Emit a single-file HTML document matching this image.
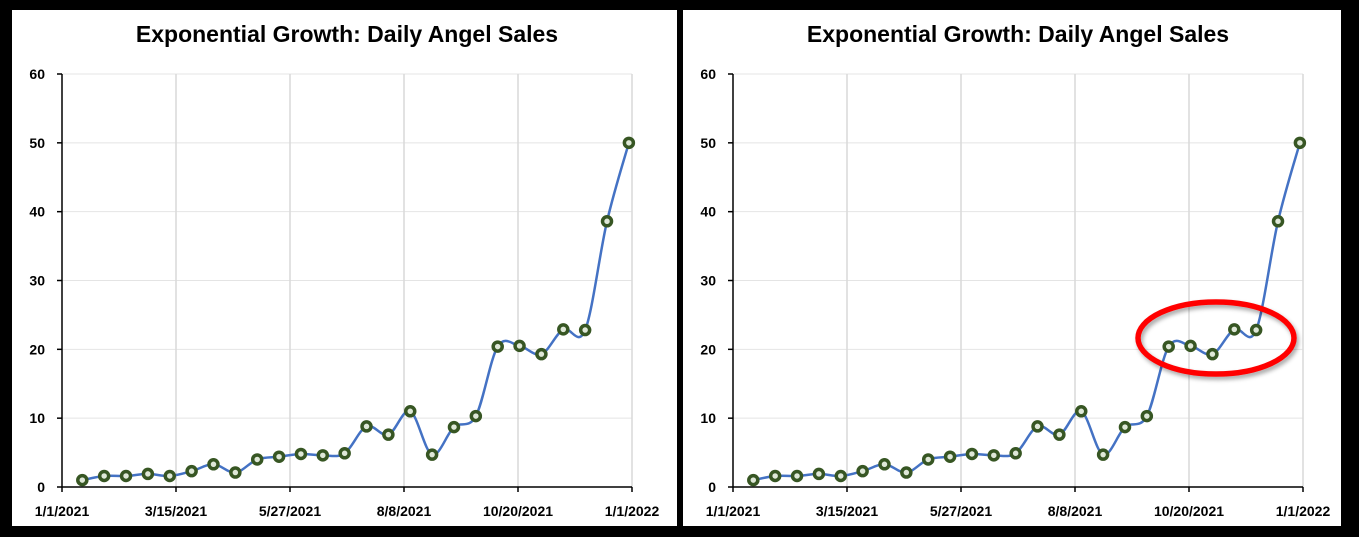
<!DOCTYPE html>
<html><head><meta charset="utf-8">
<style>
html,body{margin:0;padding:0;background:#000;}
svg{display:block;}
text{font-family:"Liberation Sans",sans-serif;}
</style></head>
<body>
<svg id="root" width="1359" height="537" viewBox="0 0 1359 537">
<defs>
<filter id="sh" x="-20%" y="-20%" width="140%" height="140%"><feDropShadow dx="2" dy="3" stdDeviation="2" flood-color="#000" flood-opacity="0.35"/></filter>
</defs>
</svg>
<script>
const days = [13,27,41,55,69,83,97,111,125,139,153,167,181,195,209,223,237,251,265,279,293,307,321,335,349,363];
const sales = [1,1.6,1.6,1.9,1.6,2.3,3.3,2.1,4.0,4.4,4.8,4.6,4.9,8.8,7.6,11.0,4.7,8.7,10.3,20.4,20.5,19.3,22.9,22.8,38.6,50.0];
const yTicks = [0,10,20,30,40,50,60];
const xTickDays = [0,73,146,219,292,365];
const xTickLabels = ["1/1/2021","3/15/2021","5/27/2021","8/8/2021","10/20/2021","1/1/2022"];

const NS="http://www.w3.org/2000/svg";
const root=document.getElementById('root');
function mk(tag,attrs,parent){const e=document.createElementNS(NS,tag);for(const k in attrs)e.setAttribute(k,attrs[k]);(parent||root).appendChild(e);return e;}

function panel(px, idx){
  const g=mk('g',{});
  
  
  const bg=mk('rect',{x:px-50,y:10,width:665+ (idx===1?0:-7),height:516,fill:'#fff'},g);
  
  
  const x0=px, x1=px+570, y0=487, y1=74;
  const xs=d=>x0+(x1-x0)*d/365;
  const ys=v=>y0-(y0-y1)*v/60;
  const t=mk('text',{x:px+285,y:42,'text-anchor':'middle','font-size':'23','font-weight':'bold',fill:'#000'},g);
  t.textContent='Exponential Growth: Daily Angel Sales';
  
  
  yTicks.forEach(v=>{
    if(v>0){const l=mk('line',{x1:x0,x2:x1,y1:ys(v),y2:ys(v),stroke:'#e4e4e4','stroke-width':1},g);
      
      }
    const tk=mk('line',{x1:x0-5,x2:x0,y1:ys(v),y2:ys(v),stroke:'#000','stroke-width':1.5},g);
    
    
    const lb=mk('text',{x:x0-17,y:ys(v)+5,'text-anchor':'end','font-size':'14','font-weight':'bold',fill:'#000'},g);
    lb.textContent=v;
    
    
  });
  xTickDays.forEach((d,i)=>{
    if(i>0){const l=mk('line',{x1:xs(d),x2:xs(d),y1:y1,y2:y0,stroke:'#d9d9d9','stroke-width':1.5},g);
      
      }
    const tk=mk('line',{x1:xs(d),x2:xs(d),y1:y0,y2:y0+5,stroke:'#000','stroke-width':1.5},g);
    
    
    const lb=mk('text',{x:xs(d),y:516,'text-anchor':'middle','font-size':'14','font-weight':'bold',fill:'#000'},g);
    lb.textContent=xTickLabels[i];
    
    
  });
  const ya=mk('line',{x1:x0,x2:x0,y1:y1,y2:y0,stroke:'#000','stroke-width':1.5},g);
  
  
  const xa=mk('line',{x1:x0,x2:x1,y1:y0,y2:y0,stroke:'#000','stroke-width':1.5},g);
  
  
  const P=days.map((d,i)=>[xs(d),ys(sales[i])]);
  let dd='M'+P[0][0]+','+P[0][1];
  for(let i=0;i<P.length-1;i++){
    const p0=P[Math.max(0,i-1)],p1=P[i],p2=P[i+1],p3=P[Math.min(P.length-1,i+2)];
    const k=1/6;
    dd+=' C'+(p1[0]+(p2[0]-p0[0])*k)+','+(p1[1]+(p2[1]-p0[1])*k)+' '+(p2[0]-(p3[0]-p1[0])*k)+','+(p2[1]-(p3[1]-p1[1])*k)+' '+p2[0]+','+p2[1];
  }
  const line=mk('path',{d:dd,fill:'none',stroke:'#4472C4','stroke-width':2.5},g);
  
  
  P.forEach(p=>{
    const c=mk('circle',{cx:p[0],cy:p[1],r:4.5,fill:'#dfe8d8',stroke:'#375623','stroke-width':3.5},g);
    
    
  });
}
panel(62,1);
panel(733,2);
const el=mk('ellipse',{cx:1216,cy:338,rx:78,ry:36,fill:'none',stroke:'#ff0000','stroke-width':5.5,filter:'url(#sh)'});


</script>
</body></html>
